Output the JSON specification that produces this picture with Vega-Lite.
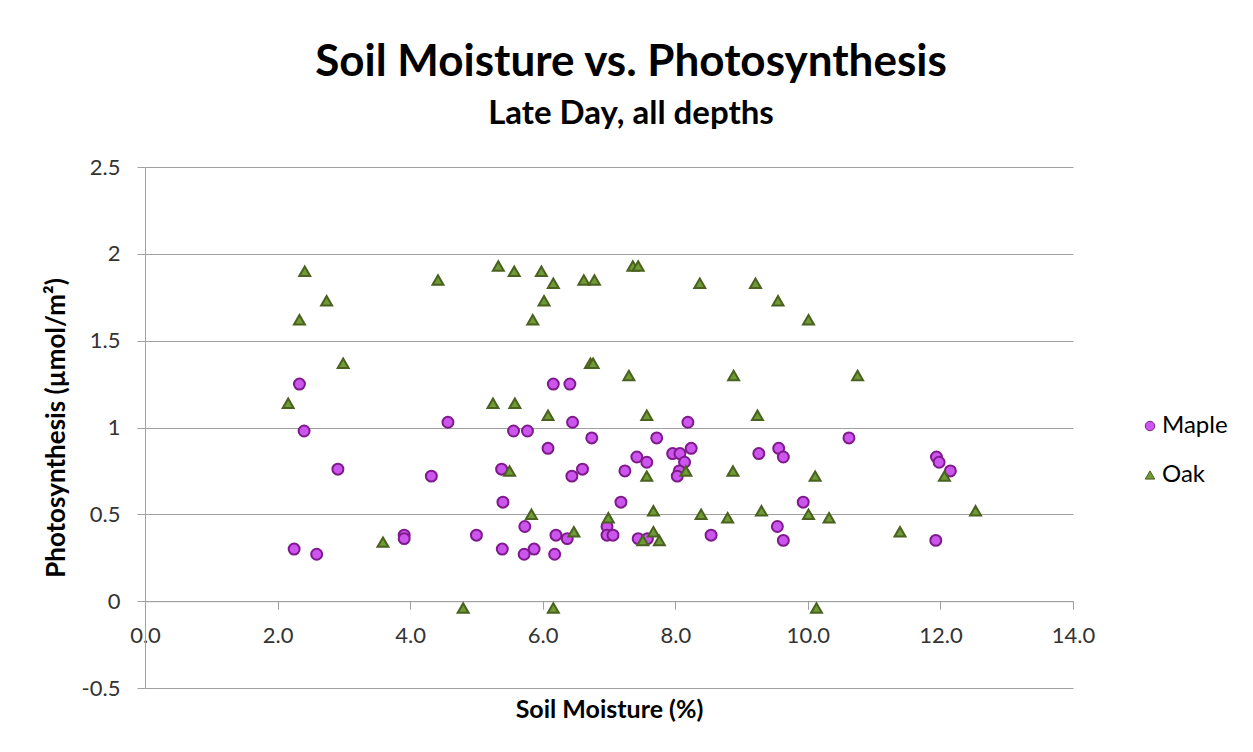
{
  "$schema": "https://vega.github.io/schema/vega-lite/v6.json",
  "autosize": {"type": "none"},
  "width": 928,
  "height": 521,
  "padding": {"left": 145, "top": 167, "right": 180, "bottom": 64},
  "background": "white",
  "title": {
    "text": "Soil Moisture vs. Photosynthesis",
    "subtitle": "Late Day, all depths",
    "anchor": "middle",
    "dx": 22,
    "offset": 25,
    "font": "Lato",
    "fontSize": 44,
    "fontWeight": "bold",
    "color": "#000000",
    "subtitleFont": "Lato",
    "subtitleFontSize": 33,
    "subtitleFontWeight": "bold",
    "subtitleColor": "#000000",
    "subtitlePadding": 13
  },
  "config": {
    "view": {"stroke": null},
    "font": "Lato"
  },
  "data": {
    "values": [
      {"series": "Maple", "moisture": 2.33, "photo": 1.25},
      {"series": "Maple", "moisture": 2.40, "photo": 0.98},
      {"series": "Maple", "moisture": 2.91, "photo": 0.76},
      {"series": "Maple", "moisture": 4.32, "photo": 0.72},
      {"series": "Maple", "moisture": 4.57, "photo": 1.03},
      {"series": "Maple", "moisture": 2.25, "photo": 0.30},
      {"series": "Maple", "moisture": 2.59, "photo": 0.27},
      {"series": "Maple", "moisture": 3.91, "photo": 0.38},
      {"series": "Maple", "moisture": 3.91, "photo": 0.36},
      {"series": "Maple", "moisture": 6.16, "photo": 1.25},
      {"series": "Maple", "moisture": 6.41, "photo": 1.25},
      {"series": "Maple", "moisture": 6.45, "photo": 1.03},
      {"series": "Maple", "moisture": 8.19, "photo": 1.03},
      {"series": "Maple", "moisture": 5.56, "photo": 0.98},
      {"series": "Maple", "moisture": 5.77, "photo": 0.98},
      {"series": "Maple", "moisture": 6.74, "photo": 0.94},
      {"series": "Maple", "moisture": 7.72, "photo": 0.94},
      {"series": "Maple", "moisture": 6.08, "photo": 0.88},
      {"series": "Maple", "moisture": 7.42, "photo": 0.83},
      {"series": "Maple", "moisture": 7.57, "photo": 0.80},
      {"series": "Maple", "moisture": 7.96, "photo": 0.85},
      {"series": "Maple", "moisture": 8.07, "photo": 0.85},
      {"series": "Maple", "moisture": 8.24, "photo": 0.88},
      {"series": "Maple", "moisture": 8.14, "photo": 0.80},
      {"series": "Maple", "moisture": 8.06, "photo": 0.75},
      {"series": "Maple", "moisture": 8.03, "photo": 0.72},
      {"series": "Maple", "moisture": 5.38, "photo": 0.76},
      {"series": "Maple", "moisture": 6.60, "photo": 0.76},
      {"series": "Maple", "moisture": 6.44, "photo": 0.72},
      {"series": "Maple", "moisture": 7.24, "photo": 0.75},
      {"series": "Maple", "moisture": 5.40, "photo": 0.57},
      {"series": "Maple", "moisture": 7.18, "photo": 0.57},
      {"series": "Maple", "moisture": 5.73, "photo": 0.43},
      {"series": "Maple", "moisture": 6.97, "photo": 0.43},
      {"series": "Maple", "moisture": 5.00, "photo": 0.38},
      {"series": "Maple", "moisture": 6.20, "photo": 0.38},
      {"series": "Maple", "moisture": 6.37, "photo": 0.36},
      {"series": "Maple", "moisture": 6.97, "photo": 0.38},
      {"series": "Maple", "moisture": 7.06, "photo": 0.38},
      {"series": "Maple", "moisture": 7.44, "photo": 0.36},
      {"series": "Maple", "moisture": 7.58, "photo": 0.36},
      {"series": "Maple", "moisture": 8.54, "photo": 0.38},
      {"series": "Maple", "moisture": 5.39, "photo": 0.30},
      {"series": "Maple", "moisture": 5.87, "photo": 0.30},
      {"series": "Maple", "moisture": 5.72, "photo": 0.27},
      {"series": "Maple", "moisture": 6.18, "photo": 0.27},
      {"series": "Maple", "moisture": 10.62, "photo": 0.94},
      {"series": "Maple", "moisture": 9.26, "photo": 0.85},
      {"series": "Maple", "moisture": 9.56, "photo": 0.88},
      {"series": "Maple", "moisture": 9.63, "photo": 0.83},
      {"series": "Maple", "moisture": 11.94, "photo": 0.83},
      {"series": "Maple", "moisture": 11.98, "photo": 0.80},
      {"series": "Maple", "moisture": 12.15, "photo": 0.75},
      {"series": "Maple", "moisture": 9.93, "photo": 0.57},
      {"series": "Maple", "moisture": 9.54, "photo": 0.43},
      {"series": "Maple", "moisture": 9.63, "photo": 0.35},
      {"series": "Maple", "moisture": 11.93, "photo": 0.35},
      {"series": "Oak", "moisture": 2.41, "photo": 1.90},
      {"series": "Oak", "moisture": 4.42, "photo": 1.85},
      {"series": "Oak", "moisture": 2.74, "photo": 1.73},
      {"series": "Oak", "moisture": 2.33, "photo": 1.62},
      {"series": "Oak", "moisture": 2.99, "photo": 1.37},
      {"series": "Oak", "moisture": 2.16, "photo": 1.14},
      {"series": "Oak", "moisture": 3.59, "photo": 0.34},
      {"series": "Oak", "moisture": 4.80, "photo": -0.04},
      {"series": "Oak", "moisture": 5.33, "photo": 1.93},
      {"series": "Oak", "moisture": 5.57, "photo": 1.90},
      {"series": "Oak", "moisture": 5.98, "photo": 1.90},
      {"series": "Oak", "moisture": 6.16, "photo": 1.83},
      {"series": "Oak", "moisture": 6.02, "photo": 1.73},
      {"series": "Oak", "moisture": 5.85, "photo": 1.62},
      {"series": "Oak", "moisture": 6.62, "photo": 1.85},
      {"series": "Oak", "moisture": 6.78, "photo": 1.85},
      {"series": "Oak", "moisture": 7.36, "photo": 1.93},
      {"series": "Oak", "moisture": 7.44, "photo": 1.93},
      {"series": "Oak", "moisture": 8.37, "photo": 1.83},
      {"series": "Oak", "moisture": 6.72, "photo": 1.37},
      {"series": "Oak", "moisture": 6.76, "photo": 1.37},
      {"series": "Oak", "moisture": 7.30, "photo": 1.30},
      {"series": "Oak", "moisture": 8.88, "photo": 1.30},
      {"series": "Oak", "moisture": 5.25, "photo": 1.14},
      {"series": "Oak", "moisture": 5.58, "photo": 1.14},
      {"series": "Oak", "moisture": 6.08, "photo": 1.07},
      {"series": "Oak", "moisture": 7.57, "photo": 1.07},
      {"series": "Oak", "moisture": 5.50, "photo": 0.75},
      {"series": "Oak", "moisture": 7.57, "photo": 0.72},
      {"series": "Oak", "moisture": 8.16, "photo": 0.75},
      {"series": "Oak", "moisture": 8.87, "photo": 0.75},
      {"series": "Oak", "moisture": 5.83, "photo": 0.50},
      {"series": "Oak", "moisture": 6.99, "photo": 0.48},
      {"series": "Oak", "moisture": 7.67, "photo": 0.52},
      {"series": "Oak", "moisture": 8.39, "photo": 0.50},
      {"series": "Oak", "moisture": 8.79, "photo": 0.48},
      {"series": "Oak", "moisture": 6.47, "photo": 0.40},
      {"series": "Oak", "moisture": 7.67, "photo": 0.40},
      {"series": "Oak", "moisture": 7.51, "photo": 0.35},
      {"series": "Oak", "moisture": 7.76, "photo": 0.35},
      {"series": "Oak", "moisture": 6.16, "photo": -0.04},
      {"series": "Oak", "moisture": 9.21, "photo": 1.83},
      {"series": "Oak", "moisture": 9.55, "photo": 1.73},
      {"series": "Oak", "moisture": 10.01, "photo": 1.62},
      {"series": "Oak", "moisture": 10.75, "photo": 1.30},
      {"series": "Oak", "moisture": 9.24, "photo": 1.07},
      {"series": "Oak", "moisture": 10.11, "photo": 0.72},
      {"series": "Oak", "moisture": 12.06, "photo": 0.72},
      {"series": "Oak", "moisture": 9.30, "photo": 0.52},
      {"series": "Oak", "moisture": 10.01, "photo": 0.50},
      {"series": "Oak", "moisture": 10.32, "photo": 0.48},
      {"series": "Oak", "moisture": 11.39, "photo": 0.40},
      {"series": "Oak", "moisture": 12.53, "photo": 0.52},
      {"series": "Oak", "moisture": 10.13, "photo": -0.04}
    ]
  },
  "mark": {"type": "point", "filled": false, "strokeWidth": 2, "opacity": 1},
  "encoding": {
    "x": {
      "field": "moisture",
      "type": "quantitative",
      "scale": {"domain": [0, 14], "nice": false, "zero": false},
      "axis": {
        "title": "Soil Moisture (%)",
        "values": [0, 2, 4, 6, 8, 10, 12, 14],
        "format": ".1f",
        "offset": -86.8,
        "grid": false,
        "domainColor": "#A0A0A0",
        "tickColor": "#A0A0A0",
        "tickSize": 8,
        "labelPadding": 16,
        "labelFontSize": 22,
        "labelColor": "#333333",
        "labelFont": "Lato",
        "labelFlush": false,
        "labelOverlap": false,
        "titleFont": "Lato",
        "titleFontSize": 25,
        "titleFontWeight": "bold",
        "titleColor": "#000000",
        "titlePadding": 51
      }
    },
    "y": {
      "field": "photo",
      "type": "quantitative",
      "scale": {"domain": [-0.5, 2.5], "nice": false, "zero": false},
      "axis": {
        "title": "Photosynthesis (µmol/m²)",
        "values": [-0.5, 0, 0.5, 1, 1.5, 2, 2.5],
        "labelExpr": "'' + datum.value",
        "grid": true,
        "gridColor": "#A0A0A0",
        "gridWidth": 1,
        "domainColor": "#A0A0A0",
        "tickColor": "#A0A0A0",
        "tickSize": 8,
        "labelPadding": 17,
        "labelFontSize": 22,
        "labelColor": "#333333",
        "labelFont": "Lato",
        "labelFlush": false,
        "labelOverlap": false,
        "titleFont": "Lato",
        "titleFontSize": 26,
        "titleFontWeight": "bold",
        "titleColor": "#000000",
        "titlePadding": 12
      }
    },
    "shape": {
      "field": "series",
      "type": "nominal",
      "scale": {"domain": ["Maple", "Oak"], "range": ["circle", "triangle-up"]},
      "legend": {
        "title": null,
        "orient": "none",
        "legendX": 993,
        "legendY": 247,
        "padding": 0,
        "rowPadding": 25,
        "labelFontSize": 24,
        "labelFont": "Lato",
        "labelColor": "#000000",
        "labelOffset": 0,
        "symbolSize": 90,
        "symbolStrokeWidth": 1
      }
    },
    "fill": {
      "field": "series",
      "type": "nominal",
      "scale": {"domain": ["Maple", "Oak"], "range": ["#CC55EE", "#6E9B35"]},
      "legend": {
        "title": null,
        "orient": "none",
        "legendX": 993,
        "legendY": 247,
        "padding": 0,
        "rowPadding": 25,
        "labelFontSize": 24,
        "labelFont": "Lato",
        "labelColor": "#000000",
        "labelOffset": 0,
        "symbolSize": 90,
        "symbolStrokeWidth": 1
      }
    },
    "stroke": {
      "field": "series",
      "type": "nominal",
      "scale": {"domain": ["Maple", "Oak"], "range": ["#7F1A8C", "#4A6120"]},
      "legend": {
        "title": null,
        "orient": "none",
        "legendX": 993,
        "legendY": 247,
        "padding": 0,
        "rowPadding": 25,
        "labelFontSize": 24,
        "labelFont": "Lato",
        "labelColor": "#000000",
        "labelOffset": 0,
        "symbolSize": 90,
        "symbolStrokeWidth": 1
      }
    },
    "size": {"value": 120}
  }
}
